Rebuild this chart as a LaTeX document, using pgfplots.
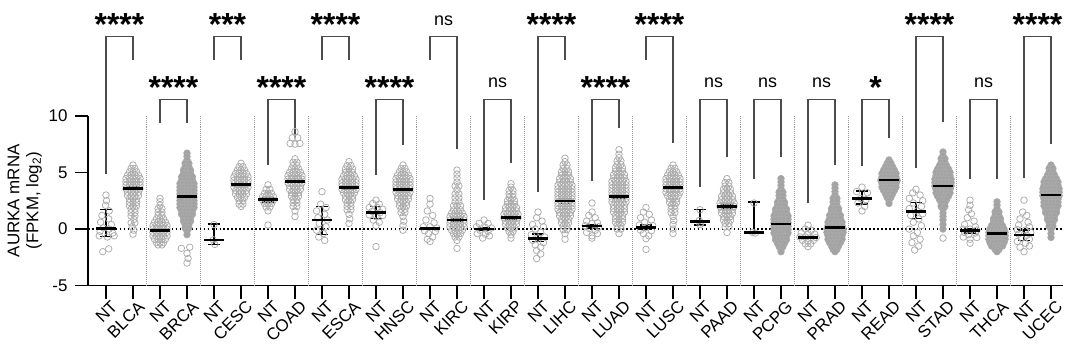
\documentclass[border=0pt]{standalone}
\usepackage{fontspec}
\setmainfont{Liberation Sans}
\usepackage{pgfplots}
\pgfplotsset{compat=1.18}
\definecolor{ptg}{HTML}{ABABAB}
\definecolor{flg}{HTML}{A2A2A2}
\definecolor{sepg}{HTML}{9C9C9C}
\definecolor{brk}{HTML}{4C4C4C}
\pgfplotsset{
 op/.style={only marks, mark=o, mark size=3.3, mark options={draw=ptg, line width=0.75pt}, forget plot},
 fl/.style={only marks, mark=*, mark size=3.3, mark options={draw=ptg, fill=flg, line width=0.75pt}, forget plot},
}
\begin{document}
\begin{tikzpicture}
\begin{axis}[name=ax, x=27bp, y=11.33bp, xmin=-0.667, xmax=35.45, ymin=-5, ymax=10,
 axis x line*=bottom, axis y line*=left, axis line style={line width=1.6pt, -},
 clip=false,
 xtick={0,...,35},
 xticklabels={NT,BLCA,NT,BRCA,NT,CESC,NT,COAD,NT,ESCA,NT,HNSC,NT,KIRC,NT,KIRP,NT,LIHC,NT,LUAD,NT,LUSC,NT,PAAD,NT,PCPG,NT,PRAD,NT,READ,NT,STAD,NT,THCA,NT,UCEC},
 ytick={-5,0,5,10}, yticklabels={-5,0,5,10},
 tick align=outside, major tick length=13bp, tick style={line width=1.6pt, black},
 tick label style={font=\fontsize{17}{20}\selectfont},
 xticklabel style={rotate=45, anchor=north east, inner sep=0.5pt, xshift=3bp, yshift=-3bp},
 yticklabel style={xshift=-4bp},
 ylabel={AURKA mRNA\\(FPKM, log\textsubscript{2})},
 ylabel style={align=center, font=\fontsize{17}{19}\selectfont, xshift=0bp},
]
% separators
\pgfplotsinvokeforeach{1.5,3.5,...,33.5}{\draw[sepg, line width=0.7pt, dash pattern=on 0.8pt off 1.2pt] (axis cs:#1,-5) -- (axis cs:#1,10);}
% zero line
\draw[black, line width=1.6pt, dash pattern=on 1.6pt off 2.4pt] (axis cs:-0.667,0) -- (axis cs:35.45,0);

% ---------- NT groups (open) ----------
\addplot[op] table[row sep=\\, x expr=0+\thisrow{d}, y=y]{d y\\
0 3.0\\0.02 2.5\\-0.02 2.1\\0.12 1.6\\-0.15 1.2\\0.1 0.9\\-0.2 0.6\\0.2 0.4\\-0.1 0.1\\0.12 0.0\\-0.22 -0.2\\0.25 -0.35\\-0.25 -0.6\\0.05 -0.7\\0.3 -0.6\\0.1 -1.75\\-0.12 -2.0\\};
\addplot[op] table[row sep=\\, x expr=2+\thisrow{d}, y=y]{d y\\
0 2.7\\0 2.4\\0 2.1\\-0.07 1.8\\0.07 1.8\\-0.07 1.5\\0.07 1.5\\-0.07 1.2\\0.07 1.2\\
-0.13 0.9\\0 0.9\\0.13 0.9\\-0.2 0.6\\-0.07 0.6\\0.07 0.6\\0.2 0.6\\
-0.26 0.3\\-0.13 0.3\\0 0.3\\0.13 0.3\\0.26 0.3\\
-0.26 0.0\\-0.13 0.0\\0 0.0\\0.13 0.0\\0.26 0.0\\
-0.26 -0.3\\-0.13 -0.3\\0 -0.3\\0.13 -0.3\\0.26 -0.3\\
-0.26 -0.6\\-0.13 -0.6\\0 -0.6\\0.13 -0.6\\0.26 -0.6\\
-0.2 -0.9\\-0.07 -0.9\\0.07 -0.9\\0.2 -0.9\\
-0.13 -1.2\\0 -1.2\\0.13 -1.2\\-0.07 -1.4\\0.07 -1.4\\};
\addplot[op] table[row sep=\\, x expr=4+\thisrow{d}, y=y]{d y\\
0 0.4\\-0.03 -0.95\\0.03 -1.35\\};
\addplot[op] table[row sep=\\, x expr=6+\thisrow{d}, y=y]{d y\\
0 3.9\\-0.07 3.5\\0.07 3.5\\-0.13 3.15\\0 3.15\\0.13 3.15\\
-0.2 2.85\\-0.07 2.85\\0.07 2.85\\0.2 2.85\\-0.2 2.55\\-0.07 2.55\\0.07 2.55\\0.2 2.55\\
-0.13 2.25\\0 2.25\\0.13 2.25\\-0.07 1.95\\0.07 1.95\\0 1.6\\0 0.35\\};
\addplot[op] table[row sep=\\, x expr=8+\thisrow{d}, y=y]{d y\\
0 3.3\\-0.05 2.2\\0.15 1.9\\-0.2 1.6\\0.1 1.3\\-0.15 1.0\\0.2 0.8\\-0.1 0.5\\0.15 0.2\\-0.2 -0.1\\0.05 -0.4\\-0.12 -0.7\\0.1 -1.0\\};
\addplot[op] table[row sep=\\, x expr=10+\thisrow{d}, y=y]{d y\\
0 2.55\\-0.12 2.25\\0.12 2.2\\-0.25 1.9\\0.05 1.9\\0.25 1.75\\-0.15 1.55\\0.15 1.45\\-0.25 1.25\\0.25 1.2\\0 1.1\\-0.1 0.8\\0.12 0.6\\0 0.3\\0 -1.55\\};
\addplot[op] table[row sep=\\, x expr=12+\thisrow{d}, y=y]{d y\\
0 2.7\\0 2.2\\-0.1 1.6\\0.1 1.2\\-0.15 0.8\\0.15 0.55\\-0.25 0.2\\0 0.2\\0.25 0.1\\-0.2 -0.15\\0.2 -0.2\\-0.05 -0.4\\0.1 -0.7\\-0.1 -0.9\\0 -1.1\\};
\addplot[op] table[row sep=\\, x expr=14+\thisrow{d}, y=y]{d y\\
0 0.8\\-0.18 0.5\\0.15 0.5\\-0.28 0.2\\0.05 0.15\\0.28 0.1\\-0.15 -0.1\\0.15 -0.2\\-0.25 -0.4\\0.05 -0.45\\0.2 -0.6\\-0.05 -0.8\\};
\addplot[op] table[row sep=\\, x expr=16+\thisrow{d}, y=y]{d y\\
0 1.5\\-0.05 1.0\\0.15 0.7\\-0.2 0.4\\0.2 0.2\\-0.1 0.0\\0.1 -0.3\\-0.25 -0.5\\0.25 -0.7\\0 -0.8\\-0.2 -1.0\\0.2 -1.2\\-0.1 -1.4\\0.1 -1.6\\-0.05 -1.9\\0.1 -2.2\\-0.05 -2.6\\};
\addplot[op] table[row sep=\\, x expr=18+\thisrow{d}, y=y]{d y\\
0 2.3\\0 1.5\\-0.12 1.2\\0.12 1.0\\-0.2 0.7\\0.2 0.55\\0 0.5\\-0.25 0.3\\0.25 0.2\\-0.1 0.05\\0.12 -0.1\\-0.2 -0.3\\0.2 -0.4\\0 -0.6\\0 -0.8\\};
\addplot[op] table[row sep=\\, x expr=20+\thisrow{d}, y=y]{d y\\
0 1.9\\-0.1 1.5\\0.12 1.3\\-0.2 1.0\\0.2 0.8\\-0.05 0.6\\-0.25 0.35\\0.25 0.3\\0 0.15\\-0.2 -0.1\\0.2 -0.15\\-0.1 -0.4\\0.1 -0.6\\0 -0.85\\0 -1.8\\};
\addplot[op] table[row sep=\\, x expr=22+\thisrow{d}, y=y]{d y\\
0 1.7\\-0.03 0.75\\0.03 0.55\\0 0.4\\};
\addplot[op] table[row sep=\\, x expr=24+\thisrow{d}, y=y]{d y\\
0 2.3\\-0.05 -0.3\\0.05 -0.35\\};
\addplot[op] table[row sep=\\, x expr=26+\thisrow{d}, y=y]{d y\\
0 0.35\\-0.1 0.0\\0.12 -0.1\\-0.25 -0.35\\0 -0.4\\0.25 -0.45\\-0.3 -0.7\\-0.1 -0.7\\0.1 -0.75\\0.3 -0.75\\-0.2 -1.0\\0 -1.05\\0.2 -1.0\\-0.1 -1.3\\0.1 -1.3\\0 -1.55\\};
\addplot[op] table[row sep=\\, x expr=28+\thisrow{d}, y=y]{d y\\
0 3.7\\-0.2 3.3\\0.2 3.2\\-0.05 2.7\\0.15 2.6\\-0.15 2.3\\0.1 2.0\\0 1.6\\};
\addplot[op] table[row sep=\\, x expr=30+\thisrow{d}, y=y]{d y\\
0 3.5\\-0.12 3.2\\0.15 3.0\\-0.25 2.7\\0.25 2.5\\-0.1 2.3\\0.2 2.0\\-0.25 1.8\\0.05 1.6\\0.25 1.35\\-0.2 1.2\\0.1 0.9\\-0.1 0.6\\0.2 0.3\\-0.25 0.0\\0.05 -0.3\\-0.1 -0.6\\0.15 -0.9\\-0.15 -1.2\\0.1 -1.5\\-0.05 -1.85\\};
\addplot[op] table[row sep=\\, x expr=32+\thisrow{d}, y=y]{d y\\
0 2.55\\0 2.1\\-0.05 1.7\\0.05 1.35\\-0.1 1.0\\0.15 0.7\\-0.2 0.4\\0.2 0.2\\-0.25 0.0\\0 0.0\\0.25 -0.1\\-0.2 -0.3\\0.2 -0.35\\-0.05 -0.5\\-0.25 -0.7\\0.25 -0.75\\0 -0.9\\0 -1.25\\};
\addplot[op] table[row sep=\\, x expr=34+\thisrow{d}, y=y]{d y\\
0 2.55\\-0.05 1.5\\0.1 1.2\\-0.15 0.9\\0.15 0.6\\-0.2 0.35\\0.2 0.2\\-0.25 -0.05\\0.05 -0.1\\0.25 -0.3\\-0.2 -0.45\\0.1 -0.55\\-0.1 -0.8\\0.2 -0.9\\-0.25 -1.1\\0.05 -1.25\\0.2 -1.5\\-0.15 -1.6\\0 -2.0\\};

% ---------- tumour groups, open ----------
% BLCA
\addplot[op] table[row sep=\\, x expr=1+\thisrow{d}, y=y]{d y\\
0 5.65\\-0.07 5.35\\0.07 5.35\\-0.13 5.05\\0 5.05\\0.13 5.05\\
-0.2 4.75\\-0.07 4.75\\0.07 4.75\\0.2 4.75\\
-0.26 4.45\\-0.13 4.45\\0 4.45\\0.13 4.45\\0.26 4.45\\
-0.26 4.15\\-0.13 4.15\\0 4.15\\0.13 4.15\\0.26 4.15\\
-0.26 3.85\\-0.13 3.85\\0 3.85\\0.13 3.85\\0.26 3.85\\
-0.26 3.55\\-0.13 3.55\\0 3.55\\0.13 3.55\\0.26 3.55\\
-0.2 3.25\\-0.07 3.25\\0.07 3.25\\0.2 3.25\\
-0.2 2.95\\-0.07 2.95\\0.07 2.95\\0.2 2.95\\
-0.13 2.65\\0 2.65\\0.13 2.65\\-0.13 2.35\\0 2.35\\0.13 2.35\\-0.13 2.05\\0 2.05\\0.13 2.05\\
-0.07 1.75\\0.07 1.75\\-0.07 1.45\\0.07 1.45\\-0.07 1.15\\0.07 1.15\\
0.03 0.85\\-0.07 0.55\\0.07 0.55\\-0.03 0.2\\0.03 -0.1\\0 -0.45\\};
% CESC
\addplot[op] table[row sep=\\, x expr=5+\thisrow{d}, y=y]{d y\\
0 5.8\\-0.07 5.5\\0.07 5.5\\-0.13 5.2\\0 5.2\\0.13 5.2\\
-0.2 4.9\\-0.07 4.9\\0.07 4.9\\0.2 4.9\\
-0.26 4.6\\-0.13 4.6\\0 4.6\\0.13 4.6\\0.26 4.6\\
-0.26 4.3\\-0.13 4.3\\0 4.3\\0.13 4.3\\0.26 4.3\\
-0.26 4.0\\-0.13 4.0\\0 4.0\\0.13 4.0\\0.26 4.0\\
-0.26 3.7\\-0.13 3.7\\0 3.7\\0.13 3.7\\0.26 3.7\\
-0.2 3.4\\-0.07 3.4\\0.07 3.4\\0.2 3.4\\-0.2 3.1\\-0.07 3.1\\0.07 3.1\\0.2 3.1\\
-0.13 2.8\\0 2.8\\0.13 2.8\\-0.07 2.5\\0.07 2.5\\-0.07 2.2\\0.07 2.2\\0 2.0\\};
% COAD
\addplot[op] table[row sep=\\, x expr=7+\thisrow{d}, y=y]{d y\\
0 8.6\\-0.1 8.05\\0.1 8.05\\-0.18 7.55\\0 7.5\\0.18 7.55\\
0 6.2\\-0.07 5.9\\0.07 5.9\\-0.07 5.6\\0.07 5.6\\-0.13 5.3\\0 5.3\\0.13 5.3\\
-0.2 5.0\\-0.07 5.0\\0.07 5.0\\0.2 5.0\\
-0.26 4.7\\-0.13 4.7\\0 4.7\\0.13 4.7\\0.26 4.7\\
-0.26 4.4\\-0.13 4.4\\0 4.4\\0.13 4.4\\0.26 4.4\\
-0.26 4.1\\-0.13 4.1\\0 4.1\\0.13 4.1\\0.26 4.1\\
-0.2 3.8\\-0.07 3.8\\0.07 3.8\\0.2 3.8\\-0.2 3.5\\-0.07 3.5\\0.07 3.5\\0.2 3.5\\
-0.13 3.2\\0 3.2\\0.13 3.2\\-0.13 2.9\\0 2.9\\0.13 2.9\\
-0.07 2.6\\0.07 2.6\\-0.07 2.3\\0.07 2.3\\-0.07 2.0\\0.07 2.0\\0 1.6\\0 1.1\\};
% ESCA
\addplot[op] table[row sep=\\, x expr=9+\thisrow{d}, y=y]{d y\\
0 5.95\\-0.07 5.6\\0.07 5.6\\-0.13 5.3\\0 5.3\\0.13 5.3\\-0.13 5.0\\0 5.0\\0.13 5.0\\
-0.2 4.7\\-0.07 4.7\\0.07 4.7\\0.2 4.7\\
-0.26 4.4\\-0.13 4.4\\0 4.4\\0.13 4.4\\0.26 4.4\\
-0.26 4.1\\-0.13 4.1\\0 4.1\\0.13 4.1\\0.26 4.1\\
-0.26 3.8\\-0.13 3.8\\0 3.8\\0.13 3.8\\0.26 3.8\\
-0.26 3.5\\-0.13 3.5\\0 3.5\\0.13 3.5\\0.26 3.5\\
-0.2 3.2\\-0.07 3.2\\0.07 3.2\\0.2 3.2\\
-0.13 2.9\\0 2.9\\0.13 2.9\\-0.13 2.6\\0 2.6\\0.13 2.6\\
-0.07 2.3\\0.07 2.3\\-0.07 2.0\\0.07 2.0\\-0.07 1.7\\0.07 1.7\\0 1.3\\0.03 0.9\\0 0.5\\};
% HNSC
\addplot[op] table[row sep=\\, x expr=11+\thisrow{d}, y=y]{d y\\
0 5.65\\-0.07 5.35\\0.07 5.35\\-0.13 5.05\\0 5.05\\0.13 5.05\\
-0.2 4.75\\-0.07 4.75\\0.07 4.75\\0.2 4.75\\
-0.26 4.45\\-0.13 4.45\\0 4.45\\0.13 4.45\\0.26 4.45\\
-0.26 4.15\\-0.13 4.15\\0 4.15\\0.13 4.15\\0.26 4.15\\
-0.26 3.85\\-0.13 3.85\\0 3.85\\0.13 3.85\\0.26 3.85\\
-0.26 3.55\\-0.13 3.55\\0 3.55\\0.13 3.55\\0.26 3.55\\
-0.26 3.25\\-0.13 3.25\\0 3.25\\0.13 3.25\\0.26 3.25\\
-0.2 2.95\\-0.07 2.95\\0.07 2.95\\0.2 2.95\\-0.2 2.65\\-0.07 2.65\\0.07 2.65\\0.2 2.65\\
-0.13 2.35\\0 2.35\\0.13 2.35\\-0.13 2.05\\0 2.05\\0.13 2.05\\
-0.07 1.75\\0.07 1.75\\-0.07 1.45\\0.07 1.45\\0 1.1\\0.03 0.7\\0 0.3\\0 -0.1\\};
% KIRC
\addplot[op] table[row sep=\\, x expr=13+\thisrow{d}, y=y]{d y\\
0 5.2\\0 4.85\\0 4.5\\0 4.15\\-0.07 3.8\\0.07 3.8\\0 3.45\\-0.07 3.1\\0.07 3.1\\
-0.07 2.75\\0.07 2.75\\-0.07 2.4\\0.07 2.4\\-0.13 2.05\\0 2.05\\0.13 2.05\\-0.13 1.7\\0 1.7\\0.13 1.7\\
-0.2 1.4\\-0.07 1.4\\0.07 1.4\\0.2 1.4\\
-0.26 1.1\\-0.13 1.1\\0 1.1\\0.13 1.1\\0.26 1.1\\
-0.26 0.8\\-0.13 0.8\\0 0.8\\0.13 0.8\\0.26 0.8\\
-0.26 0.5\\-0.13 0.5\\0 0.5\\0.13 0.5\\0.26 0.5\\
-0.26 0.2\\-0.13 0.2\\0 0.2\\0.13 0.2\\0.26 0.2\\
-0.2 -0.1\\-0.07 -0.1\\0.07 -0.1\\0.2 -0.1\\-0.13 -0.4\\0 -0.4\\0.13 -0.4\\
-0.07 -0.7\\0.07 -0.7\\0 -1.0\\0 -1.7\\};
% KIRP
\addplot[op] table[row sep=\\, x expr=15+\thisrow{d}, y=y]{d y\\
0 4.0\\0 3.7\\-0.07 3.4\\0.07 3.4\\-0.07 3.1\\0.07 3.1\\-0.07 2.8\\0.07 2.8\\
-0.13 2.5\\0 2.5\\0.13 2.5\\-0.13 2.2\\0 2.2\\0.13 2.2\\
-0.2 1.9\\-0.07 1.9\\0.07 1.9\\0.2 1.9\\-0.2 1.6\\-0.07 1.6\\0.07 1.6\\0.2 1.6\\
-0.26 1.3\\-0.13 1.3\\0 1.3\\0.13 1.3\\0.26 1.3\\
-0.26 1.0\\-0.13 1.0\\0 1.0\\0.13 1.0\\0.26 1.0\\
-0.2 0.7\\-0.07 0.7\\0.07 0.7\\0.2 0.7\\-0.2 0.4\\-0.07 0.4\\0.07 0.4\\0.2 0.4\\
-0.13 0.1\\0 0.1\\0.13 0.1\\-0.07 -0.2\\0.07 -0.2\\0 -0.5\\0 -0.8\\};
% LIHC
\addplot[op] table[row sep=\\, x expr=17+\thisrow{d}, y=y]{d y\\
0 6.25\\0 5.95\\-0.07 5.65\\0.07 5.65\\-0.07 5.35\\0.07 5.35\\
-0.13 5.05\\0 5.05\\0.13 5.05\\-0.13 4.75\\0 4.75\\0.13 4.75\\
-0.2 4.45\\-0.07 4.45\\0.07 4.45\\0.2 4.45\\-0.2 4.15\\-0.07 4.15\\0.07 4.15\\0.2 4.15\\
-0.26 3.85\\-0.13 3.85\\0 3.85\\0.13 3.85\\0.26 3.85\\
-0.26 3.55\\-0.13 3.55\\0 3.55\\0.13 3.55\\0.26 3.55\\
-0.26 3.25\\-0.13 3.25\\0 3.25\\0.13 3.25\\0.26 3.25\\
-0.26 2.95\\-0.13 2.95\\0 2.95\\0.13 2.95\\0.26 2.95\\
-0.26 2.65\\-0.13 2.65\\0 2.65\\0.13 2.65\\0.26 2.65\\
-0.26 2.35\\-0.13 2.35\\0 2.35\\0.13 2.35\\0.26 2.35\\
-0.26 2.05\\-0.13 2.05\\0 2.05\\0.13 2.05\\0.26 2.05\\
-0.26 1.75\\-0.13 1.75\\0 1.75\\0.13 1.75\\0.26 1.75\\
-0.2 1.45\\-0.07 1.45\\0.07 1.45\\0.2 1.45\\-0.2 1.15\\-0.07 1.15\\0.07 1.15\\0.2 1.15\\
-0.13 0.85\\0 0.85\\0.13 0.85\\-0.13 0.55\\0 0.55\\0.13 0.55\\
-0.07 0.25\\0.07 0.25\\-0.07 -0.05\\0.07 -0.05\\0 -0.4\\0 -0.9\\};
% LUAD
\addplot[op] table[row sep=\\, x expr=19+\thisrow{d}, y=y]{d y\\
0 7.0\\0 6.6\\0 6.3\\-0.07 6.0\\0.07 6.0\\-0.07 5.7\\0.07 5.7\\
-0.13 5.4\\0 5.4\\0.13 5.4\\-0.13 5.1\\0 5.1\\0.13 5.1\\
-0.2 4.8\\-0.07 4.8\\0.07 4.8\\0.2 4.8\\-0.2 4.5\\-0.07 4.5\\0.07 4.5\\0.2 4.5\\
-0.26 4.2\\-0.13 4.2\\0 4.2\\0.13 4.2\\0.26 4.2\\
-0.26 3.9\\-0.13 3.9\\0 3.9\\0.13 3.9\\0.26 3.9\\
-0.26 3.6\\-0.13 3.6\\0 3.6\\0.13 3.6\\0.26 3.6\\
-0.26 3.3\\-0.13 3.3\\0 3.3\\0.13 3.3\\0.26 3.3\\
-0.26 3.0\\-0.13 3.0\\0 3.0\\0.13 3.0\\0.26 3.0\\
-0.26 2.7\\-0.13 2.7\\0 2.7\\0.13 2.7\\0.26 2.7\\
-0.26 2.4\\-0.13 2.4\\0 2.4\\0.13 2.4\\0.26 2.4\\
-0.2 2.1\\-0.07 2.1\\0.07 2.1\\0.2 2.1\\-0.2 1.8\\-0.07 1.8\\0.07 1.8\\0.2 1.8\\
-0.2 1.5\\-0.07 1.5\\0.07 1.5\\0.2 1.5\\
-0.13 1.2\\0 1.2\\0.13 1.2\\-0.13 0.9\\0 0.9\\0.13 0.9\\-0.13 0.6\\0 0.6\\0.13 0.6\\
-0.07 0.3\\0.07 0.3\\-0.07 0.0\\0.07 0.0\\0 -0.4\\};
% LUSC
\addplot[op] table[row sep=\\, x expr=21+\thisrow{d}, y=y]{d y\\
0 5.65\\-0.07 5.35\\0.07 5.35\\-0.13 5.05\\0 5.05\\0.13 5.05\\
-0.2 4.75\\-0.07 4.75\\0.07 4.75\\0.2 4.75\\
-0.26 4.45\\-0.13 4.45\\0 4.45\\0.13 4.45\\0.26 4.45\\
-0.26 4.15\\-0.13 4.15\\0 4.15\\0.13 4.15\\0.26 4.15\\
-0.26 3.85\\-0.13 3.85\\0 3.85\\0.13 3.85\\0.26 3.85\\
-0.26 3.55\\-0.13 3.55\\0 3.55\\0.13 3.55\\0.26 3.55\\
-0.26 3.25\\-0.13 3.25\\0 3.25\\0.13 3.25\\0.26 3.25\\
-0.2 2.95\\-0.07 2.95\\0.07 2.95\\0.2 2.95\\
-0.13 2.65\\0 2.65\\0.13 2.65\\-0.13 2.35\\0 2.35\\0.13 2.35\\
-0.07 2.05\\0.07 2.05\\-0.07 1.75\\0.07 1.75\\-0.07 1.45\\0.07 1.45\\
0 1.1\\0.03 0.75\\0 0.4\\0 0.0\\0 -0.4\\};
% PAAD
\addplot[op] table[row sep=\\, x expr=23+\thisrow{d}, y=y]{d y\\
0 4.45\\-0.07 4.1\\0.07 4.1\\-0.07 3.8\\0.07 3.8\\-0.13 3.5\\0 3.5\\0.13 3.5\\-0.13 3.2\\0 3.2\\0.13 3.2\\
-0.2 2.9\\-0.07 2.9\\0.07 2.9\\0.2 2.9\\-0.2 2.6\\-0.07 2.6\\0.07 2.6\\0.2 2.6\\
-0.26 2.3\\-0.13 2.3\\0 2.3\\0.13 2.3\\0.26 2.3\\
-0.26 2.0\\-0.13 2.0\\0 2.0\\0.13 2.0\\0.26 2.0\\
-0.2 1.7\\-0.07 1.7\\0.07 1.7\\0.2 1.7\\-0.2 1.4\\-0.07 1.4\\0.07 1.4\\0.2 1.4\\
-0.13 1.1\\0 1.1\\0.13 1.1\\-0.13 0.8\\0 0.8\\0.13 0.8\\
-0.07 0.5\\0.07 0.5\\-0.07 0.2\\0.07 0.2\\0 -0.3\\};
% outliers drawn open
\addplot[op] table[row sep=\\, x expr=3+\thisrow{d}, y=y]{d y\\
-0.21 -1.7\\0.1 -1.6\\0 -2.15\\0.04 -2.6\\0 -3.0\\};
\addplot[op] table[row sep=\\, x expr=31+\thisrow{d}, y=y]{d y\\
0 -0.8\\};

% ---------- tumour groups, dense (filled) ----------
% BRCA
\addplot[fl] table[row sep=\\, x expr=3+\thisrow{d}, y=y]{d y\\
0 6.7\\0 6.4\\0 6.1\\-0.07 5.8\\0.07 5.8\\-0.07 5.5\\0.07 5.5\\
-0.13 5.2\\0 5.2\\0.13 5.2\\-0.13 4.9\\0 4.9\\0.13 4.9\\
-0.2 4.6\\-0.07 4.6\\0.07 4.6\\0.2 4.6\\-0.2 4.3\\-0.07 4.3\\0.07 4.3\\0.2 4.3\\
-0.26 4.0\\-0.13 4.0\\0 4.0\\0.13 4.0\\0.26 4.0\\
-0.26 3.7\\-0.13 3.7\\0 3.7\\0.13 3.7\\0.26 3.7\\
-0.26 3.4\\-0.13 3.4\\0 3.4\\0.13 3.4\\0.26 3.4\\
-0.26 3.1\\-0.13 3.1\\0 3.1\\0.13 3.1\\0.26 3.1\\
-0.26 2.8\\-0.13 2.8\\0 2.8\\0.13 2.8\\0.26 2.8\\
-0.26 2.5\\-0.13 2.5\\0 2.5\\0.13 2.5\\0.26 2.5\\
-0.26 2.2\\-0.13 2.2\\0 2.2\\0.13 2.2\\0.26 2.2\\
-0.26 1.9\\-0.13 1.9\\0 1.9\\0.13 1.9\\0.26 1.9\\
-0.2 1.6\\-0.07 1.6\\0.07 1.6\\0.2 1.6\\-0.2 1.3\\-0.07 1.3\\0.07 1.3\\0.2 1.3\\
-0.13 1.0\\0 1.0\\0.13 1.0\\-0.13 0.7\\0 0.7\\0.13 0.7\\
-0.07 0.4\\0.07 0.4\\-0.07 0.1\\0.07 0.1\\0 -0.2\\0 -0.5\\};
% PCPG
\addplot[fl] table[row sep=\\, x expr=25+\thisrow{d}, y=y]{d y\\
0 4.45\\0 4.15\\0 3.85\\0 3.55\\-0.07 3.25\\0.07 3.25\\-0.07 2.95\\0.07 2.95\\-0.07 2.65\\0.07 2.65\\
-0.13 2.35\\0 2.35\\0.13 2.35\\-0.13 2.05\\0 2.05\\0.13 2.05\\
-0.2 1.75\\-0.07 1.75\\0.07 1.75\\0.2 1.75\\-0.2 1.45\\-0.07 1.45\\0.07 1.45\\0.2 1.45\\
-0.26 1.15\\-0.13 1.15\\0 1.15\\0.13 1.15\\0.26 1.15\\
-0.26 0.85\\-0.13 0.85\\0 0.85\\0.13 0.85\\0.26 0.85\\
-0.26 0.55\\-0.13 0.55\\0 0.55\\0.13 0.55\\0.26 0.55\\
-0.26 0.25\\-0.13 0.25\\0 0.25\\0.13 0.25\\0.26 0.25\\
-0.26 -0.05\\-0.13 -0.05\\0 -0.05\\0.13 -0.05\\0.26 -0.05\\
-0.26 -0.35\\-0.13 -0.35\\0 -0.35\\0.13 -0.35\\0.26 -0.35\\
-0.2 -0.65\\-0.07 -0.65\\0.07 -0.65\\0.2 -0.65\\-0.2 -0.95\\-0.07 -0.95\\0.07 -0.95\\0.2 -0.95\\
-0.13 -1.25\\0 -1.25\\0.13 -1.25\\-0.07 -1.55\\0.07 -1.55\\0 -1.8\\0 -2.0\\};
% PRAD
\addplot[fl] table[row sep=\\, x expr=27+\thisrow{d}, y=y]{d y\\
0 3.9\\0 3.6\\0 3.3\\0 3.0\\-0.07 2.7\\0.07 2.7\\-0.07 2.4\\0.07 2.4\\-0.07 2.1\\0.07 2.1\\
-0.13 1.8\\0 1.8\\0.13 1.8\\-0.13 1.5\\0 1.5\\0.13 1.5\\
-0.2 1.2\\-0.07 1.2\\0.07 1.2\\0.2 1.2\\-0.2 0.9\\-0.07 0.9\\0.07 0.9\\0.2 0.9\\
-0.26 0.6\\-0.13 0.6\\0 0.6\\0.13 0.6\\0.26 0.6\\
-0.26 0.3\\-0.13 0.3\\0 0.3\\0.13 0.3\\0.26 0.3\\
-0.3 0.0\\-0.18 0.0\\-0.06 0.0\\0.06 0.0\\0.18 0.0\\0.3 0.0\\
-0.3 -0.3\\-0.18 -0.3\\-0.06 -0.3\\0.06 -0.3\\0.18 -0.3\\0.3 -0.3\\
-0.26 -0.6\\-0.13 -0.6\\0 -0.6\\0.13 -0.6\\0.26 -0.6\\
-0.26 -0.9\\-0.13 -0.9\\0 -0.9\\0.13 -0.9\\0.26 -0.9\\
-0.2 -1.2\\-0.07 -1.2\\0.07 -1.2\\0.2 -1.2\\
-0.13 -1.5\\0 -1.5\\0.13 -1.5\\-0.07 -1.8\\0.07 -1.8\\0 -2.0\\};
% READ
\addplot[fl] table[row sep=\\, x expr=29+\thisrow{d}, y=y]{d y\\
0 6.1\\-0.07 5.8\\0.07 5.8\\-0.13 5.5\\0 5.5\\0.13 5.5\\
-0.2 5.2\\-0.07 5.2\\0.07 5.2\\0.2 5.2\\
-0.26 4.9\\-0.13 4.9\\0 4.9\\0.13 4.9\\0.26 4.9\\
-0.26 4.6\\-0.13 4.6\\0 4.6\\0.13 4.6\\0.26 4.6\\
-0.3 4.3\\-0.18 4.3\\-0.06 4.3\\0.06 4.3\\0.18 4.3\\0.3 4.3\\
-0.26 4.0\\-0.13 4.0\\0 4.0\\0.13 4.0\\0.26 4.0\\
-0.26 3.7\\-0.13 3.7\\0 3.7\\0.13 3.7\\0.26 3.7\\
-0.2 3.4\\-0.07 3.4\\0.07 3.4\\0.2 3.4\\
-0.13 3.1\\0 3.1\\0.13 3.1\\-0.07 2.8\\0.07 2.8\\0 2.5\\0 2.26\\};
% STAD
\addplot[fl] table[row sep=\\, x expr=31+\thisrow{d}, y=y]{d y\\
0 6.8\\0 6.5\\-0.07 6.2\\0.07 6.2\\-0.07 5.9\\0.07 5.9\\-0.13 5.6\\0 5.6\\0.13 5.6\\
-0.2 5.3\\-0.07 5.3\\0.07 5.3\\0.2 5.3\\
-0.26 5.0\\-0.13 5.0\\0 5.0\\0.13 5.0\\0.26 5.0\\
-0.26 4.7\\-0.13 4.7\\0 4.7\\0.13 4.7\\0.26 4.7\\
-0.3 4.4\\-0.18 4.4\\-0.06 4.4\\0.06 4.4\\0.18 4.4\\0.3 4.4\\
-0.3 4.1\\-0.18 4.1\\-0.06 4.1\\0.06 4.1\\0.18 4.1\\0.3 4.1\\
-0.3 3.8\\-0.18 3.8\\-0.06 3.8\\0.06 3.8\\0.18 3.8\\0.3 3.8\\
-0.26 3.5\\-0.13 3.5\\0 3.5\\0.13 3.5\\0.26 3.5\\
-0.26 3.2\\-0.13 3.2\\0 3.2\\0.13 3.2\\0.26 3.2\\
-0.2 2.9\\-0.07 2.9\\0.07 2.9\\0.2 2.9\\
-0.13 2.6\\0 2.6\\0.13 2.6\\-0.07 2.3\\0.07 2.3\\-0.07 2.0\\0.07 2.0\\
0 1.7\\0 1.4\\0 1.1\\0 0.8\\0 0.4\\0 0.0\\};
% THCA
\addplot[fl] table[row sep=\\, x expr=33+\thisrow{d}, y=y]{d y\\
0 2.4\\0 2.1\\0 1.8\\-0.07 1.5\\0.07 1.5\\-0.07 1.2\\0.07 1.2\\
-0.13 0.9\\0 0.9\\0.13 0.9\\-0.13 0.6\\0 0.6\\0.13 0.6\\
-0.2 0.3\\-0.07 0.3\\0.07 0.3\\0.2 0.3\\
-0.26 0.0\\-0.13 0.0\\0 0.0\\0.13 0.0\\0.26 0.0\\
-0.3 -0.3\\-0.18 -0.3\\-0.06 -0.3\\0.06 -0.3\\0.18 -0.3\\0.3 -0.3\\
-0.3 -0.6\\-0.18 -0.6\\-0.06 -0.6\\0.06 -0.6\\0.18 -0.6\\0.3 -0.6\\
-0.3 -0.9\\-0.18 -0.9\\-0.06 -0.9\\0.06 -0.9\\0.18 -0.9\\0.3 -0.9\\
-0.26 -1.2\\-0.13 -1.2\\0 -1.2\\0.13 -1.2\\0.26 -1.2\\
-0.2 -1.5\\-0.07 -1.5\\0.07 -1.5\\0.2 -1.5\\
-0.07 -1.8\\0.07 -1.8\\0 -2.0\\};
% UCEC
\addplot[fl] table[row sep=\\, x expr=35+\thisrow{d}, y=y]{d y\\
0 5.65\\-0.07 5.35\\0.07 5.35\\-0.07 5.05\\0.07 5.05\\-0.13 4.75\\0 4.75\\0.13 4.75\\
-0.2 4.45\\-0.07 4.45\\0.07 4.45\\0.2 4.45\\
-0.26 4.15\\-0.13 4.15\\0 4.15\\0.13 4.15\\0.26 4.15\\
-0.26 3.85\\-0.13 3.85\\0 3.85\\0.13 3.85\\0.26 3.85\\
-0.3 3.55\\-0.18 3.55\\-0.06 3.55\\0.06 3.55\\0.18 3.55\\0.3 3.55\\
-0.3 3.25\\-0.18 3.25\\-0.06 3.25\\0.06 3.25\\0.18 3.25\\0.3 3.25\\
-0.3 2.95\\-0.18 2.95\\-0.06 2.95\\0.06 2.95\\0.18 2.95\\0.3 2.95\\
-0.26 2.65\\-0.13 2.65\\0 2.65\\0.13 2.65\\0.26 2.65\\
-0.26 2.35\\-0.13 2.35\\0 2.35\\0.13 2.35\\0.26 2.35\\
-0.26 2.05\\-0.13 2.05\\0 2.05\\0.13 2.05\\0.26 2.05\\
-0.2 1.75\\-0.07 1.75\\0.07 1.75\\0.2 1.75\\-0.2 1.45\\-0.07 1.45\\0.07 1.45\\0.2 1.45\\
-0.13 1.15\\0 1.15\\0.13 1.15\\-0.13 0.85\\0 0.85\\0.13 0.85\\
-0.07 0.55\\0.07 0.55\\-0.07 0.25\\0.07 0.25\\0 -0.05\\0 -0.4\\0 -0.74\\};

% ---------- medians with error bars ----------
\addplot[only marks, mark=-, mark size=10, mark options={line width=2.8pt, black}, forget plot,
 error bars/.cd, y dir=both, y explicit,
 error bar style={line width=1.4pt, black},
 error mark options={rotate=90, line width=1.4pt, mark size=6, black}]
coordinates {
(0,0.06) += (0,1.68) -= (0,0.74)
(1,3.6) +- (0,0.12)
(2,-0.1) +- (0,0.1)
(3,2.9) +- (0,0.1)
(4,-0.97) += (0,1.41) -= (0,0.38)
(5,3.94) +- (0,0.1)
(6,2.6) +- (0,0.2)
(7,4.2) +- (0,0.1)
(8,0.8) += (0,1.2) -= (0,1.3)
(9,3.65) +- (0,0.12)
(10,1.44) += (0,0.56) -= (0,0.5)
(11,3.5) +- (0,0.1)
(12,0.06) +- (0,0.1)
(13,0.8) +- (0,0.1)
(14,0) +- (0,0.08)
(15,1.0) +- (0,0.1)
(16,-0.82) += (0,0.38) -= (0,0.3)
(17,2.47) +- (0,0.2)
(18,0.26) +- (0,0.15)
(19,2.85) +- (0,0.1)
(20,0.15) +- (0,0.2)
(21,3.67) +- (0,0.1)
(22,0.65) += (0,1.09) -= (0,0.3)
(23,1.97) +- (0,0.15)
(24,-0.3) += (0,2.7) -= (0,0.1)
(25,0.44) +- (0,0.15)
(26,-0.74) +- (0,0.08)
(27,0.15) +- (0,0.08)
(28,2.7) += (0,0.65) -= (0,0.5)
(29,4.32) +- (0,0.12)
(30,1.53) += (0,0.82) -= (0,0.59)
(31,3.8) +- (0,0.1)
(32,-0.15) +- (0,0.2)
(33,-0.38) +- (0,0.08)
(34,-0.53) += (0,0.43) -= (0,0.47)
(35,3.0) +- (0,0.1)
};

% ---------- significance brackets ----------
\tikzset{br/.style={brk, line width=1.2pt}}
\draw[br] (axis cs:0,4.9) |- (axis cs:1,17) -- (axis cs:1,14.9);
\draw[br] (axis cs:2,9.4) |- (axis cs:3,11.45) -- (axis cs:3,9.4);
\draw[br] (axis cs:4,14.9) |- (axis cs:5,17) -- (axis cs:5,14.9);
\draw[br] (axis cs:6,5.65) |- (axis cs:7,11.45) -- (axis cs:7,8.0);
\draw[br] (axis cs:8,14.9) |- (axis cs:9,17) -- (axis cs:9,14.9);
\draw[br] (axis cs:10,4.77) |- (axis cs:11,11.45) -- (axis cs:11,7.4);
\draw[br] (axis cs:12,14.9) |- (axis cs:13,17) -- (axis cs:13,7.06);
\draw[br] (axis cs:14,2.56) |- (axis cs:15,11.45) -- (axis cs:15,5.8);
\draw[br] (axis cs:16,3.3) |- (axis cs:17,17) -- (axis cs:17,14.9);
\draw[br] (axis cs:18,4.2) |- (axis cs:19,11.45) -- (axis cs:19,8.95);
\draw[br] (axis cs:20,14.9) |- (axis cs:21,17) -- (axis cs:21,7.56);
\draw[br] (axis cs:22,3.7) |- (axis cs:23,11.45) -- (axis cs:23,6.4);
\draw[br] (axis cs:24,4.4) |- (axis cs:25,11.45) -- (axis cs:25,6.4);
\draw[br] (axis cs:26,2.27) |- (axis cs:27,11.45) -- (axis cs:27,5.65);
\draw[br] (axis cs:28,5.56) |- (axis cs:29,11.45) -- (axis cs:29,8.0);
\draw[br] (axis cs:30,5.36) |- (axis cs:31,17) -- (axis cs:31,9.47);
\draw[br] (axis cs:32,4.4) |- (axis cs:33,11.45) -- (axis cs:33,4.4);
\draw[br] (axis cs:34,4.5) |- (axis cs:35,17) -- (axis cs:35,7.5);

\tikzset{st/.style={anchor=base, inner sep=0pt, font=\fontsize{32}{32}\selectfont\bfseries},
 ns/.style={anchor=base, inner sep=0pt, font=\fontsize{18}{20}\selectfont}}
\node[st] at (axis cs:0.5,17.1) {****};
\node[st] at (axis cs:2.5,11.5) {****};
\node[st] at (axis cs:4.5,17.1) {***};
\node[st] at (axis cs:6.5,11.5) {****};
\node[st] at (axis cs:8.5,17.1) {****};
\node[st] at (axis cs:10.5,11.5) {****};
\node[ns] at (axis cs:12.5,18.0) {ns};
\node[ns] at (axis cs:14.5,12.5) {ns};
\node[st] at (axis cs:16.5,17.1) {****};
\node[st] at (axis cs:18.5,11.5) {****};
\node[st] at (axis cs:20.5,17.1) {****};
\node[ns] at (axis cs:22.5,12.5) {ns};
\node[ns] at (axis cs:24.5,12.5) {ns};
\node[ns] at (axis cs:26.5,12.5) {ns};
\node[st] at (axis cs:28.5,11.5) {*};
\node[st] at (axis cs:30.5,17.1) {****};
\node[ns] at (axis cs:32.5,12.5) {ns};
\node[st] at (axis cs:34.5,17.1) {****};
\end{axis}
\pgfresetboundingbox
\path[use as bounding box] ([shift={(-88bp,-72.3bp)}]ax.south west) rectangle ++(1065bp,358bp);
\end{tikzpicture}
\end{document}
